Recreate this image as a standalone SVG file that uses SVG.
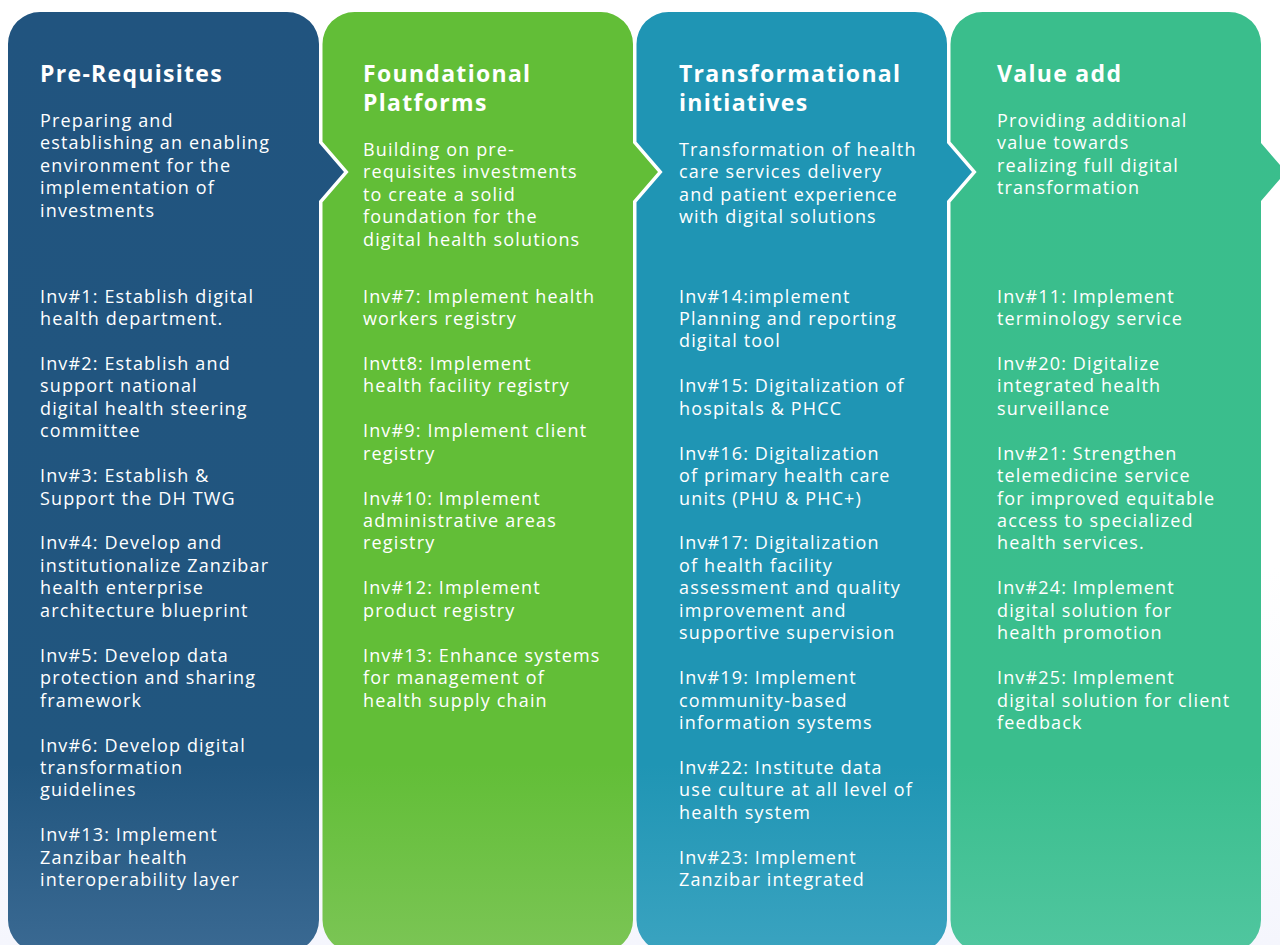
<svg xmlns="http://www.w3.org/2000/svg" width="1280" height="945" viewBox="0 0 1280 945">
  <defs>
    <linearGradient id="bg" x1="0" y1="0" x2="0" y2="1">
      <stop offset="0" stop-color="#ffffff"/>
      <stop offset="0.6" stop-color="#ffffff"/>
      <stop offset="1" stop-color="#f5f6fd"/>
    </linearGradient>
    <linearGradient id="g1" gradientUnits="userSpaceOnUse" x1="0" y1="12" x2="0" y2="952">
      <stop offset="0" stop-color="#21547f"/>
      <stop offset="0.8" stop-color="#21567f"/>
      <stop offset="1" stop-color="#3a6992"/>
    </linearGradient>
    <linearGradient id="g2" gradientUnits="userSpaceOnUse" x1="0" y1="12" x2="0" y2="952">
      <stop offset="0" stop-color="#62be37"/>
      <stop offset="0.8" stop-color="#62be37"/>
      <stop offset="1" stop-color="#7bc555"/>
    </linearGradient>
    <linearGradient id="g3" gradientUnits="userSpaceOnUse" x1="0" y1="12" x2="0" y2="952">
      <stop offset="0" stop-color="#1f95b4"/>
      <stop offset="0.8" stop-color="#1f95b4"/>
      <stop offset="1" stop-color="#3aa3c0"/>
    </linearGradient>
    <linearGradient id="g4" gradientUnits="userSpaceOnUse" x1="0" y1="12" x2="0" y2="952">
      <stop offset="0" stop-color="#3abe8c"/>
      <stop offset="0.8" stop-color="#3abe8d"/>
      <stop offset="1" stop-color="#50c69f"/>
    </linearGradient>
  </defs>
  <style>
    text { font-family: "Open Sans", "Liberation Sans", sans-serif; fill: #ffffff; }
    .title { font-size: 23px; font-weight: 700; letter-spacing: 1.3px; }
    .body { font-size: 18px; font-weight: 400; letter-spacing: 1.15px; }
  </style>
  <rect x="0" y="0" width="1280" height="945" fill="url(#bg)"/>

  <g id="col-prerequisites">
    <path d="M40,12 H287 A32,32 0 0 1 319,44 V143 L344,172 L319,201 V920 A32,32 0 0 1 287,952 H40 A32,32 0 0 1 8,920 V44 A32,32 0 0 1 40,12 Z" fill="url(#g1)"/>
    <text class="title" x="40" y="81.7">Pre-Requisites</text>
    <text class="body" x="40" y="126.7"><tspan x="40">Preparing and</tspan><tspan x="40" dy="22.45">establishing an enabling</tspan><tspan x="40" dy="22.45">environment for the</tspan><tspan x="40" dy="22.45">implementation of</tspan><tspan x="40" dy="22.45">investments</tspan></text>
    <text class="body" x="40" y="302.5"><tspan x="40">Inv#1: Establish digital</tspan><tspan x="40" dy="22.45">health department.</tspan><tspan x="40" dy="44.9">Inv#2: Establish and</tspan><tspan x="40" dy="22.45">support national</tspan><tspan x="40" dy="22.45">digital health steering</tspan><tspan x="40" dy="22.45">committee</tspan><tspan x="40" dy="44.9">Inv#3: Establish &amp;</tspan><tspan x="40" dy="22.45">Support the DH TWG</tspan><tspan x="40" dy="44.9">Inv#4: Develop and</tspan><tspan x="40" dy="22.45">institutionalize Zanzibar</tspan><tspan x="40" dy="22.45">health enterprise</tspan><tspan x="40" dy="22.45">architecture blueprint</tspan><tspan x="40" dy="44.9">Inv#5: Develop data</tspan><tspan x="40" dy="22.45">protection and sharing</tspan><tspan x="40" dy="22.45">framework</tspan><tspan x="40" dy="44.9">Inv#6: Develop digital</tspan><tspan x="40" dy="22.45">transformation</tspan><tspan x="40" dy="22.45">guidelines</tspan><tspan x="40" dy="44.9">Inv#13: Implement</tspan><tspan x="40" dy="22.45">Zanzibar health</tspan><tspan x="40" dy="22.45">interoperability layer</tspan></text>
  </g>

  <g id="col-foundational">
    <path d="M354.5,12 H601 A32,32 0 0 1 633,44 V143 L658,172 L633,201 V920 A32,32 0 0 1 601,952 H354.5 A32,32 0 0 1 322.5,920 V202.3 L348.6,172 L322.5,141.7 V44 A32,32 0 0 1 354.5,12 Z" fill="url(#g2)"/>
    <text class="title" x="363" y="81.7"><tspan x="363">Foundational</tspan><tspan x="363" dy="29">Platforms</tspan></text>
    <text class="body" x="363" y="156"><tspan x="363">Building on pre-</tspan><tspan x="363" dy="22.45">requisites investments</tspan><tspan x="363" dy="22.45">to create a solid</tspan><tspan x="363" dy="22.45">foundation for the</tspan><tspan x="363" dy="22.45">digital health solutions</tspan></text>
    <text class="body" x="363" y="302.5"><tspan x="363">Inv#7: Implement health</tspan><tspan x="363" dy="22.45">workers registry</tspan><tspan x="363" dy="44.9">Invtt8: Implement</tspan><tspan x="363" dy="22.45">health facility registry</tspan><tspan x="363" dy="44.9">Inv#9: Implement client</tspan><tspan x="363" dy="22.45">registry</tspan><tspan x="363" dy="44.9">Inv#10: Implement</tspan><tspan x="363" dy="22.45">administrative areas</tspan><tspan x="363" dy="22.45">registry</tspan><tspan x="363" dy="44.9">Inv#12: Implement</tspan><tspan x="363" dy="22.45">product registry</tspan><tspan x="363" dy="44.9">Inv#13: Enhance systems</tspan><tspan x="363" dy="22.45">for management of</tspan><tspan x="363" dy="22.45">health supply chain</tspan></text>
  </g>

  <g id="col-transformational">
    <path d="M668.5,12 H915 A32,32 0 0 1 947,44 V143 L972,172 L947,201 V920 A32,32 0 0 1 915,952 H668.5 A32,32 0 0 1 636.5,920 V202.3 L662.6,172 L636.5,141.7 V44 A32,32 0 0 1 668.5,12 Z" fill="url(#g3)"/>
    <text class="title" x="679" y="81.7"><tspan x="679">Transformational</tspan><tspan x="679" dy="29">initiatives</tspan></text>
    <text class="body" x="679" y="156"><tspan x="679">Transformation of health</tspan><tspan x="679" dy="22.45">care services delivery</tspan><tspan x="679" dy="22.45">and patient experience</tspan><tspan x="679" dy="22.45">with digital solutions</tspan></text>
    <text class="body" x="679" y="302.5"><tspan x="679">Inv#14:implement</tspan><tspan x="679" dy="22.45">Planning and reporting</tspan><tspan x="679" dy="22.45">digital tool</tspan><tspan x="679" dy="44.9">Inv#15: Digitalization of</tspan><tspan x="679" dy="22.45">hospitals &amp; PHCC</tspan><tspan x="679" dy="44.9">Inv#16: Digitalization</tspan><tspan x="679" dy="22.45">of primary health care</tspan><tspan x="679" dy="22.45">units (PHU &amp; PHC+)</tspan><tspan x="679" dy="44.9">Inv#17: Digitalization</tspan><tspan x="679" dy="22.45">of health facility</tspan><tspan x="679" dy="22.45">assessment and quality</tspan><tspan x="679" dy="22.45">improvement and</tspan><tspan x="679" dy="22.45">supportive supervision</tspan><tspan x="679" dy="44.9">Inv#19: Implement</tspan><tspan x="679" dy="22.45">community-based</tspan><tspan x="679" dy="22.45">information systems</tspan><tspan x="679" dy="44.9">Inv#22: Institute data</tspan><tspan x="679" dy="22.45">use culture at all level of</tspan><tspan x="679" dy="22.45">health system</tspan><tspan x="679" dy="44.9">Inv#23: Implement</tspan><tspan x="679" dy="22.45">Zanzibar integrated</tspan></text>
  </g>

  <g id="col-value-add">
    <path d="M982.5,12 H1229 A32,32 0 0 1 1261,44 V143 L1286,172 L1261,201 V920 A32,32 0 0 1 1229,952 H982.5 A32,32 0 0 1 950.5,920 V202.3 L976.6,172 L950.5,141.7 V44 A32,32 0 0 1 982.5,12 Z" fill="url(#g4)"/>
    <text class="title" x="997" y="81.7">Value add</text>
    <text class="body" x="997" y="126.7"><tspan x="997">Providing additional</tspan><tspan x="997" dy="22.45">value towards</tspan><tspan x="997" dy="22.45">realizing full digital</tspan><tspan x="997" dy="22.45">transformation</tspan></text>
    <text class="body" x="997" y="302.5"><tspan x="997">Inv#11: Implement</tspan><tspan x="997" dy="22.45">terminology service</tspan><tspan x="997" dy="44.9">Inv#20: Digitalize</tspan><tspan x="997" dy="22.45">integrated health</tspan><tspan x="997" dy="22.45">surveillance</tspan><tspan x="997" dy="44.9">Inv#21: Strengthen</tspan><tspan x="997" dy="22.45">telemedicine service</tspan><tspan x="997" dy="22.45">for improved equitable</tspan><tspan x="997" dy="22.45">access to specialized</tspan><tspan x="997" dy="22.45">health services.</tspan><tspan x="997" dy="44.9">Inv#24: Implement</tspan><tspan x="997" dy="22.45">digital solution for</tspan><tspan x="997" dy="22.45">health promotion</tspan><tspan x="997" dy="44.9">Inv#25: Implement</tspan><tspan x="997" dy="22.45">digital solution for client</tspan><tspan x="997" dy="22.45">feedback</tspan></text>
  </g>

  <g id="connectors"></g>
</svg>
